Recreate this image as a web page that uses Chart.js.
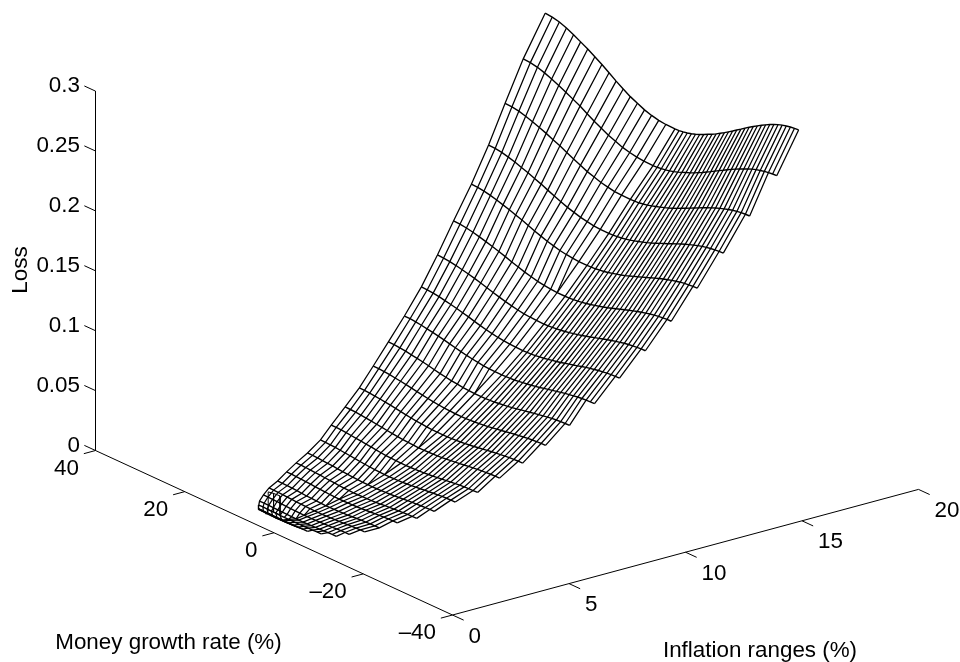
<!DOCTYPE html>
<html>
<head>
<meta charset="utf-8">
<title>Loss surface</title>
<style>
  html, body { margin: 0; background: #fff; }
  canvas { display: block; }
</style>
<script src="https://cdn.jsdelivr.net/npm/chart.js@4"></script>
</head>
<body>
<canvas id="chart" width="960" height="662"></canvas>
<script>
const lossTicks = [0, 0.05, 0.1, 0.15, 0.2, 0.25, 0.3]
const lossTickLabels = ['0', '0.05', '0.1', '0.15', '0.2', '0.25', '0.3']
const moneyTicks = [40, 20, 0, -20, -40]
const moneyTickLabels = ['40', '20', '0', '–20', '–40']
const inflationTicks = [0, 5, 10, 15, 20]
const inflationTickLabels = ['0', '5', '10', '15', '20']

// one entry per mesh row, from the top edge of the surface down to the cusp
const inflationRows = [17.46, 16.52, 15.55, 14.63, 13.70, 12.76, 11.86, 10.96, 10.06, 9.18, 8.34, 7.55, 6.75, 5.98, 5.27, 4.54, 3.92, 3.30, 2.72, 2.22, 1.77, 1.41, 1.07, 0.77, 0.48, 0.23, 0]
const moneyLeft = [30.4, 30.4, 29.4, 28.3, 27.3, 26.4, 25.3, 24.2, 23.3, 22.3, 21.3, 20.3, 19.3, 18.4, 17.1, 16.2, 15.5, 14.4, 13.4, 12.7, 11.6, 10.6, 9, 7.5, 6, 4.7, 3]
const moneyRight = [-26.4, -26.4, -25.4, -24.3, -23.3, -22.4, -21.3, -20.2, -19.3, -18.3, -17.3, -16.3, -15.3, -14.4, -13.1, -12.2, -11.5, -10.4, -9.4, -8.7, -7.6, -6.6, -5, -3.5, -2, -0.7, 1]

// mesh cells left of the wide middle cell, per row; the lower rows have fewer cells
const leftCells = [17, 17, 17, 17, 17, 16, 16, 16, 16, 15, 15, 15, 14, 14, 13, 12, 12, 11, 10, 10, 9, 8, 7, 5, 4, 3, 1]
// the wide middle cell, as share of the row width
const middleFrom = 0.476
const middleTo = 0.512

// loss read along each row, left end to right end
const lossRows = [
  [.2900,.2895,.2881,.2858,.2830,.2797,.2765,.2727,.2690,.2648,.2606,.2568,.2531,.2503,.2475,.2456,.2442,.2435,.2433,.2435,.2440,.2447,.2456,.2468,.2482,.2498,.2515,.2531,.2550,.2571,.2592,.2615,.2638,.2662,.2685,.2709,.2732,.2755,.2776,.2797,.2816,.2835,.2851,.2865,.2877,.2886,.2893,.2898,.2900],
  [.2568,.2564,.2552,.2533,.2509,.2482,.2454,.2423,.2392,.2356,.2321,.2290,.2258,.2235,.2211,.2196,.2184,.2178,.2176,.2178,.2182,.2188,.2196,.2205,.2217,.2231,.2245,.2258,.2274,.2292,.2309,.2329,.2348,.2368,.2388,.2407,.2427,.2446,.2464,.2482,.2497,.2513,.2527,.2539,.2548,.2556,.2562,.2566,.2568],
  [.2265,.2262,.2252,.2236,.2217,.2194,.2172,.2146,.2121,.2092,.2063,.2037,.2011,.1992,.1973,.1960,.1950,.1946,.1944,.1946,.1949,.1955,.1962,.1972,.1983,.1995,.2007,.2020,.2035,.2050,.2067,.2084,.2101,.2119,.2136,.2153,.2170,.2185,.2200,.2214,.2226,.2237,.2247,.2254,.2260,.2263,.2265],
  [.1984,.1981,.1973,.1959,.1943,.1923,.1904,.1882,.1860,.1835,.1811,.1789,.1767,.1750,.1734,.1723,.1714,.1710,.1709,.1711,.1714,.1719,.1726,.1734,.1744,.1755,.1766,.1778,.1791,.1806,.1821,.1836,.1851,.1867,.1882,.1897,.1911,.1925,.1937,.1949,.1959,.1967,.1974,.1979,.1982,.1984],
  [.1723,.1721,.1714,.1702,.1688,.1672,.1655,.1636,.1618,.1597,.1576,.1557,.1538,.1524,.1510,.1501,.1494,.1490,.1489,.1491,.1494,.1499,.1504,.1512,.1521,.1531,.1540,.1551,.1564,.1577,.1590,.1604,.1617,.1631,.1644,.1657,.1669,.1680,.1691,.1700,.1708,.1714,.1718,.1722,.1723],
  [.1481,.1479,.1472,.1461,.1448,.1433,.1417,.1400,.1382,.1363,.1345,.1328,.1314,.1301,.1292,.1285,.1282,.1281,.1282,.1285,.1289,.1295,.1302,.1310,.1319,.1328,.1338,.1349,.1361,.1373,.1385,.1397,.1409,.1421,.1432,.1442,.1451,.1460,.1467,.1473,.1477,.1480,.1481],
  [.1263,.1261,.1255,.1246,.1235,.1223,.1210,.1195,.1180,.1164,.1149,.1135,.1124,.1113,.1105,.1100,.1097,.1096,.1097,.1100,.1104,.1109,.1115,.1122,.1130,.1138,.1147,.1157,.1167,.1178,.1188,.1199,.1209,.1219,.1228,.1236,.1244,.1250,.1255,.1259,.1262,.1263],
  [.1063,.1061,.1056,.1049,.1039,.1029,.1018,.1005,.0993,.0979,.0966,.0954,.0944,.0935,.0929,.0924,.0922,.0921,.0922,.0924,.0928,.0933,.0938,.0945,.0952,.0959,.0967,.0977,.0986,.0995,.1004,.1014,.1023,.1031,.1038,.1046,.1051,.1056,.1060,.1062,.1063],
  [.0882,.0881,.0877,.0870,.0862,.0854,.0845,.0835,.0824,.0813,.0802,.0792,.0784,.0777,.0771,.0768,.0766,.0765,.0766,.0768,.0771,.0775,.0781,.0786,.0792,.0799,.0806,.0814,.0822,.0830,.0838,.0846,.0854,.0860,.0866,.0872,.0876,.0879,.0881,.0882],
  [.0729,.0728,.0724,.0718,.0710,.0702,.0694,.0685,.0674,.0664,.0655,.0647,.0642,.0635,.0632,.0630,.0629,.0630,.0632,.0635,.0640,.0645,.0650,.0656,.0663,.0671,.0678,.0686,.0693,.0700,.0707,.0713,.0719,.0723,.0726,.0728,.0729],
  [.0589,.0588,.0585,.0580,.0573,.0567,.0560,.0552,.0544,.0535,.0528,.0521,.0516,.0511,.0508,.0506,.0506,.0507,.0509,.0512,.0516,.0520,.0525,.0531,.0537,.0543,.0550,.0557,.0563,.0569,.0574,.0579,.0583,.0586,.0588,.0589],
  [.0465,.0464,.0461,.0457,.0452,.0446,.0440,.0433,.0426,.0419,.0413,.0407,.0403,.0398,.0396,.0394,.0394,.0395,.0397,.0399,.0403,.0407,.0412,.0417,.0423,.0429,.0435,.0441,.0446,.0451,.0456,.0460,.0462,.0464,.0465],
  [.0365,.0364,.0362,.0358,.0353,.0348,.0342,.0336,.0330,.0324,.0319,.0314,.0311,.0309,.0307,.0307,.0308,.0309,.0312,.0315,.0319,.0323,.0328,.0333,.0338,.0343,.0348,.0353,.0357,.0360,.0363,.0364,.0365],
  [.0270,.0269,.0267,.0264,.0259,.0255,.0250,.0245,.0240,.0235,.0230,.0226,.0223,.0221,.0220,.0220,.0221,.0222,.0225,.0228,.0231,.0235,.0240,.0244,.0249,.0254,.0258,.0262,.0265,.0268,.0269,.0270],
  [.0205,.0204,.0202,.0199,.0195,.0191,.0187,.0182,.0177,.0173,.0169,.0166,.0164,.0163,.0163,.0164,.0165,.0167,.0170,.0173,.0177,.0181,.0186,.0190,.0194,.0197,.0201,.0203,.0204,.0205],
  [.0150,.0149,.0147,.0144,.0141,.0138,.0134,.0129,.0126,.0122,.0120,.0118,.0117,.0117,.0118,.0119,.0121,.0123,.0126,.0130,.0133,.0137,.0140,.0143,.0146,.0148,.0149,.0150],
  [.0112,.0111,.0110,.0107,.0104,.0101,.0098,.0094,.0091,.0088,.0085,.0084,.0083,.0083,.0084,.0085,.0087,.0089,.0092,.0096,.0099,.0102,.0105,.0108,.0110,.0111,.0112],
  [.0088,.0087,.0086,.0083,.0080,.0077,.0074,.0071,.0068,.0065,.0064,.0063,.0063,.0064,.0065,.0067,.0069,.0072,.0075,.0078,.0081,.0084,.0086,.0087,.0088],
  [.0060,.0059,.0058,.0055,.0053,.0050,.0046,.0044,.0042,.0040,.0039,.0039,.0040,.0041,.0043,.0045,.0048,.0051,.0054,.0056,.0058,.0059,.0060],
  [.0040,.0039,.0038,.0036,.0034,.0032,.0029,.0027,.0025,.0024,.0023,.0023,.0023,.0025,.0026,.0028,.0030,.0032,.0035,.0037,.0039,.0040,.0040],
  [.0024,.0024,.0022,.0021,.0019,.0016,.0014,.0013,.0012,.0011,.0011,.0011,.0012,.0014,.0015,.0017,.0019,.0021,.0023,.0024,.0024],
  [.0009,.0009,.0008,.0006,.0005,.0004,.0002,.0001,.0001,.0001,.0001,.0002,.0003,.0004,.0006,.0007,.0008,.0009,.0009],
  [.0021,.0021,.0020,.0019,.0018,.0017,.0016,.0015,.0015,.0015,.0016,.0017,.0018,.0019,.0020,.0021],
  [.0032,.0032,.0031,.0029,.0028,.0027,.0027,.0028,.0029,.0030,.0031,.0032],
  [.0067,.0066,.0065,.0064,.0063,.0063,.0064,.0065,.0066,.0067],
  [.0107,.0106,.0105,.0104,.0104,.0105,.0106,.0107],
  [.0139,.0137,.0137,.0139]
]

// the two tall white cells at the bottom of the surface
const spikeInflation = 0.23
const spikeMoney = [2.5, 1.3, -0.15]
const spikeTop = [0.0286, 0.0294, 0.0298]
const spikeBottom = [0.0136, 0.0139, 0.0139]

const FONT = '22.4px "Liberation Sans", Arial, sans-serif'

// oblique view of the 3d box onto the flat chart plane
function project (inflation, money, loss) {
  return {
    x: 452.5 + 23.3 * inflation - 4.4625 * (money + 40),
    y: 615 - 6.28 * inflation - 2.056 * (money + 40) - 1198 * loss
  }
}

function line3d (points, width) {
  return {
    data: points.map(p => project(p[0], p[1], p[2])),
    showLine: true,
    borderColor: '#000',
    borderWidth: width || 1,
    pointRadius: 0,
    tension: 0,
    fill: false
  }
}

// 3d point of column c in row r
function meshPoint (r, c) {
  const left = leftCells[r]
  const right = lossRows[r].length - left - 2
  const f = c <= left
    ? middleFrom * c / left
    : middleTo + (1 - middleTo) * (c - left - 1) / right
  return [inflationRows[r], moneyLeft[r] + f * (moneyRight[r] - moneyLeft[r]), lossRows[r][c]]
}

const datasets = []

// lines along money, one per row
lossRows.forEach((row, r) => {
  datasets.push(line3d(row.map((l, c) => meshPoint(r, c)), 1.4))
})

// lines across the rows: left part counted from the left end, right part from the middle cell.
// a line stops at the last row that still has it
for (let k = 0; k <= leftCells[0]; k++) {
  const pts = []
  for (let r = 0; r < lossRows.length && k <= leftCells[r]; r++) pts.push(meshPoint(r, k))
  datasets.push(line3d(pts, 1.25))
}
for (let k = 0; k < lossRows[0].length - leftCells[0] - 1; k++) {
  const pts = []
  for (let r = 0; r < lossRows.length && leftCells[r] + 1 + k < lossRows[r].length; r++) pts.push(meshPoint(r, leftCells[r] + 1 + k))
  datasets.push(line3d(pts, 1.25))
}
// where a row loses a left cell, tie its last left column to the row below so no hole opens
for (let r = 0; r < lossRows.length - 1; r++) {
  if (leftCells[r + 1] < leftCells[r]) {
    datasets.push(line3d([meshPoint(r, leftCells[r]), meshPoint(r + 1, leftCells[r + 1])], 1.25))
  }
}

// white cells go over the mesh
for (let k = 0; k < spikeMoney.length - 1; k++) {
  const cell = line3d([
    [spikeInflation, spikeMoney[k], spikeBottom[k]],
    [spikeInflation, spikeMoney[k], spikeTop[k]],
    [spikeInflation, spikeMoney[k + 1], spikeTop[k + 1]],
    [spikeInflation, spikeMoney[k + 1], spikeBottom[k + 1]],
    [spikeInflation, spikeMoney[k], spikeBottom[k]]
  ])
  cell.fill = 'shape'
  cell.backgroundColor = '#fff'
  datasets.push(cell)
}

// box edges
datasets.push(line3d([[0, 40, lossTicks[lossTicks.length - 1]], [0, 40, 0], [0, -40, 0], [20, -40, 0]]))

// ticks
lossTicks.forEach(t => datasets.push(line3d([[0, 40, t], [0, 42.5, t]])))
moneyTicks.forEach(t => datasets.push(line3d([[0, t, 0], [-0.5, t, 0]])))
inflationTicks.forEach(t => datasets.push(line3d([[t, -40, 0], [t, -42.5, 0]])))

const axisText = {
  id: 'axisText',
  afterDatasetsDraw (chart) {
    const ctx = chart.ctx
    const sx = chart.scales.x
    const sy = chart.scales.y
    const at = (i, m, l) => {
      const p = project(i, m, l)
      return [sx.getPixelForValue(p.x), sy.getPixelForValue(p.y)]
    }
    ctx.save()
    ctx.font = FONT
    ctx.fillStyle = '#000'
    ctx.textBaseline = 'middle'

    ctx.textAlign = 'right'
    lossTicks.forEach((t, k) => {
      const [x, y] = at(0, 40, t)
      ctx.fillText(lossTickLabels[k], x - 15.5, y - 5)
    })
    moneyTicks.forEach((t, k) => {
      const [x, y] = at(0, t, 0)
      ctx.fillText(moneyTickLabels[k], x - 16.5, y + 18)
    })
    ctx.textAlign = 'left'
    inflationTicks.forEach((t, k) => {
      const [x, y] = at(t, -40, 0)
      ctx.fillText(inflationTickLabels[k], x + 16, y + 21.5)
    })

    ctx.textAlign = 'center'
    ctx.fillText('Money growth rate (%)', 168.5, 643)
    ctx.fillText('Inflation ranges (%)', 760, 651)
    ctx.translate(21, 270)
    ctx.rotate(-Math.PI / 2)
    ctx.fillText('Loss', 0, 0)
    ctx.restore()
  }
}

new Chart(document.getElementById('chart'), {
  type: 'scatter',
  data: { datasets },
  plugins: [axisText],
  options: {
    responsive: false,
    animation: false,
    layout: { padding: 0 },
    plugins: { legend: { display: false }, tooltip: { enabled: false } },
    scales: {
      x: { type: 'linear', display: false, min: 0, max: 960 },
      y: { type: 'linear', display: false, min: 0, max: 662, reverse: true }
    }
  }
})
</script>
</body>
</html>
